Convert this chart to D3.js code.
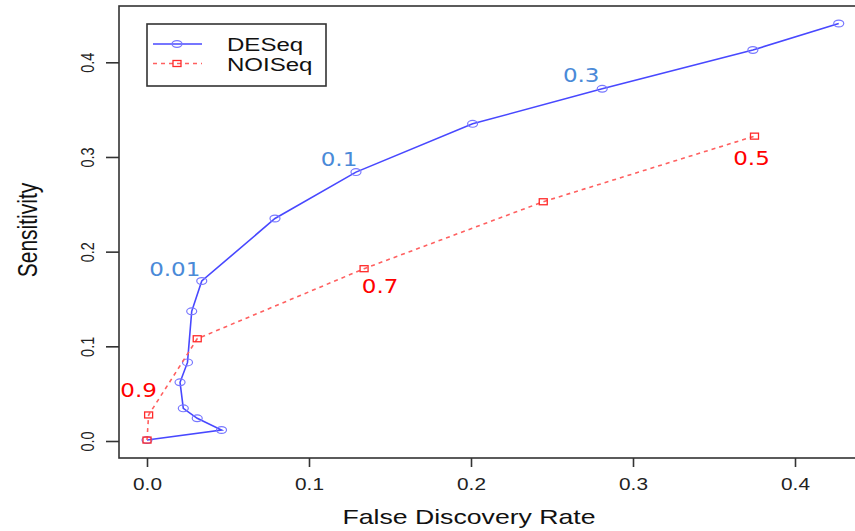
<!DOCTYPE html>
<html>
<head>
<meta charset="utf-8">
<script src="https://cdn.jsdelivr.net/npm/d3@7"></script>
<style>
	html, body { margin: 0; padding: 0; background: white; }
</style>
</head>
<body>
<div id="outer"></div>
<script>
////////// DATA //////////
const deseqFdr = [0.000, 0.046, 0.031, 0.0224, 0.0204, 0.025, 0.0276, 0.0338, 0.079, 0.129, 0.201, 0.281, 0.374, 0.427];
const deseqSens = [0.001, 0.0116, 0.024, 0.0345, 0.062, 0.083, 0.137, 0.169, 0.235, 0.284, 0.335, 0.372, 0.413, 0.441];
const noiseqFdr = [0.000, 0.001, 0.031, 0.134, 0.2446, 0.375];
const noiseqSens = [0.001, 0.0275, 0.108, 0.182, 0.2527, 0.322];
const xTicks = [0, 0.1, 0.2, 0.3, 0.4];
const yTicks = [0, 0.1, 0.2, 0.3, 0.4];
const legendNames = ['DESeq', 'NOISeq'];
// cut-off annotations: index of the point, label
const deseqNotes = [[7, '0.01'], [9, '0.1'], [11, '0.3']];
const noiseqNotes = [[1, '0.9'], [3, '0.7'], [5, '0.5']];

(function drawChart () {
	const W = 855, H = 531;
	const sx = 1.3;		// the picture is stretched sideways
	const box = {left: 119, top: 6, bottom: 458, right: 871};

	const blueLine = '#4848ff', blueMark = '#7878ff', blueText = '#4a8ad8';
	const redLine = '#ff6060', redMark = '#ff2a2a', redText = '#ff0000';
	const axisCol = '#333333';

	const x = d3.scaleLinear().domain([0, 0.4]).range([147, 795]);
	const y = d3.scaleLinear().domain([0, 0.4]).range([441, 62.3]);

	const svg = d3.select('#outer').append('svg')
		.attr('width', W)
		.attr('height', H)
		.style('display', 'block');

	// ********** BOX **********
	svg.append('rect')
		.attr('x', box.left)
		.attr('y', box.top)
		.attr('width', box.right - box.left)
		.attr('height', box.bottom - box.top)
		.attr('fill', 'none')
		.attr('stroke', axisCol)
		.attr('stroke-width', 1.6);

	// ********** AXES **********
	const xAxis = d3.axisBottom(x).tickValues(xTicks).tickSize(9).tickPadding(0);
	const gx = svg.append('g').attr('transform', `translate(0,${box.bottom})`).call(xAxis);
	gx.select('.domain').remove();
	gx.selectAll('.tick line').attr('stroke', axisCol).attr('stroke-width', 1.6);
	gx.selectAll('.tick text').remove();
	gx.selectAll('.tick').append('text')
		.attr('transform', `translate(0,32) scale(${sx},1)`)
		.attr('text-anchor', 'middle')
		.attr('fill', '#222')
		.style('font', '16px "Liberation Sans", Arial, sans-serif')
		.text(d => d3.format('.1f')(d));

	const yAxis = d3.axisLeft(y).tickValues(yTicks).tickSize(13).tickPadding(0);
	const gy = svg.append('g').attr('transform', `translate(${box.left},0)`).call(yAxis);
	gy.select('.domain').remove();
	gy.selectAll('.tick line').attr('stroke', axisCol).attr('stroke-width', 1.6);
	gy.selectAll('.tick text').remove();
	gy.selectAll('.tick').append('text')
		.attr('transform', `translate(-32,0) scale(${sx},1) rotate(-90)`)
		.attr('text-anchor', 'middle')
		.attr('dy', '0.35em')
		.attr('fill', '#222')
		.style('font', '14.5px "Liberation Sans", Arial, sans-serif')
		.text(d => d3.format('.1f')(d));

	// axis titles
	svg.append('text')
		.attr('transform', `translate(469,524) scale(${sx},1)`)
		.attr('text-anchor', 'middle')
		.attr('fill', '#111')
		.style('font', '20.5px "Liberation Sans", Arial, sans-serif')
		.text('False Discovery Rate');
	svg.append('text')
		.attr('transform', `translate(37,230) scale(${sx},1) rotate(-90)`)
		.attr('text-anchor', 'middle')
		.attr('fill', '#111')
		.style('font', '21px "Liberation Sans", Arial, sans-serif')
		.text('Sensitivity');

	// ********** SERIES **********
	const deseq = deseqFdr.map((d, i) => [d, deseqSens[i]]);
	const noiseq = noiseqFdr.map((d, i) => [d, noiseqSens[i]]);
	const line = d3.line().x(d => x(d[0])).y(d => y(d[1]));

	svg.append('path')
		.attr('d', line(deseq))
		.attr('fill', 'none')
		.attr('stroke', blueLine)
		.attr('stroke-width', 1.6);
	svg.selectAll('.deseqPt').data(deseq).enter().append('ellipse')
		.attr('class', 'deseqPt')
		.attr('cx', d => x(d[0]))
		.attr('cy', d => y(d[1]))
		.attr('rx', 5)
		.attr('ry', 3.4)
		.attr('fill', 'none')
		.attr('stroke', blueMark)
		.attr('stroke-width', 1.2);

	svg.append('path')
		.attr('d', line(noiseq))
		.attr('fill', 'none')
		.attr('stroke', redLine)
		.attr('stroke-width', 1.6)
		.attr('stroke-dasharray', '4,4');
	svg.selectAll('.noiseqPt').data(noiseq).enter().append('rect')
		.attr('class', 'noiseqPt')
		.attr('x', d => x(d[0]) - 4)
		.attr('y', d => y(d[1]) - 3)
		.attr('width', 8)
		.attr('height', 6)
		.attr('fill', 'none')
		.attr('stroke', redMark)
		.attr('stroke-width', 1.3);

	// ********** ANNOTATIONS **********
	// offsets of each label's baseline from its point
	const noteOffsets = {'0.01': [-27, -5], '0.1': [-17, -6], '0.3': [-21, -7], '0.9': [-10, -18], '0.7': [16, 24], '0.5': [-3, 29]};
	const addNotes = (pts, notes, col) => {
		notes.forEach(([i, lab]) => {
			const off = noteOffsets[lab];
			svg.append('text')
				.attr('transform', `translate(${x(pts[i][0]) + off[0]},${y(pts[i][1]) + off[1]}) scale(1.15,1)`)
				.attr('text-anchor', 'middle')
				.attr('fill', col)
				.style('font', '20px "DejaVu Sans", sans-serif')
				.text(lab);
		});
	};
	addNotes(deseq, deseqNotes, blueText);
	addNotes(noiseq, noiseqNotes, redText);

	// ********** LEGEND **********
	const lg = svg.append('g');
	lg.append('rect')
		.attr('x', 147).attr('y', 24)
		.attr('width', 179).attr('height', 62)
		.attr('fill', 'white')
		.attr('stroke', axisCol)
		.attr('stroke-width', 1.6);
	const rows = [44, 63.5];
	lg.append('line').attr('x1', 153).attr('x2', 202).attr('y1', rows[0]).attr('y2', rows[0])
		.attr('stroke', blueLine).attr('stroke-width', 1.5);
	lg.append('ellipse').attr('cx', 177).attr('cy', rows[0]).attr('rx', 5).attr('ry', 3.4)
		.attr('fill', 'none').attr('stroke', blueMark).attr('stroke-width', 1.2);
	lg.append('line').attr('x1', 153).attr('x2', 202).attr('y1', rows[1]).attr('y2', rows[1])
		.attr('stroke', redLine).attr('stroke-width', 1.5).attr('stroke-dasharray', '4,4');
	lg.append('rect').attr('x', 173).attr('y', rows[1] - 3).attr('width', 8).attr('height', 6)
		.attr('fill', 'none').attr('stroke', redMark).attr('stroke-width', 1.3);
	legendNames.forEach((n, i) => {
		lg.append('text')
			.attr('transform', `translate(227,${rows[i] + 7}) scale(${sx},1)`)
			.attr('fill', '#111')
			.style('font', '18.5px "Liberation Sans", Arial, sans-serif')
			.text(n);
	});
})();
</script>
</body>
</html>
